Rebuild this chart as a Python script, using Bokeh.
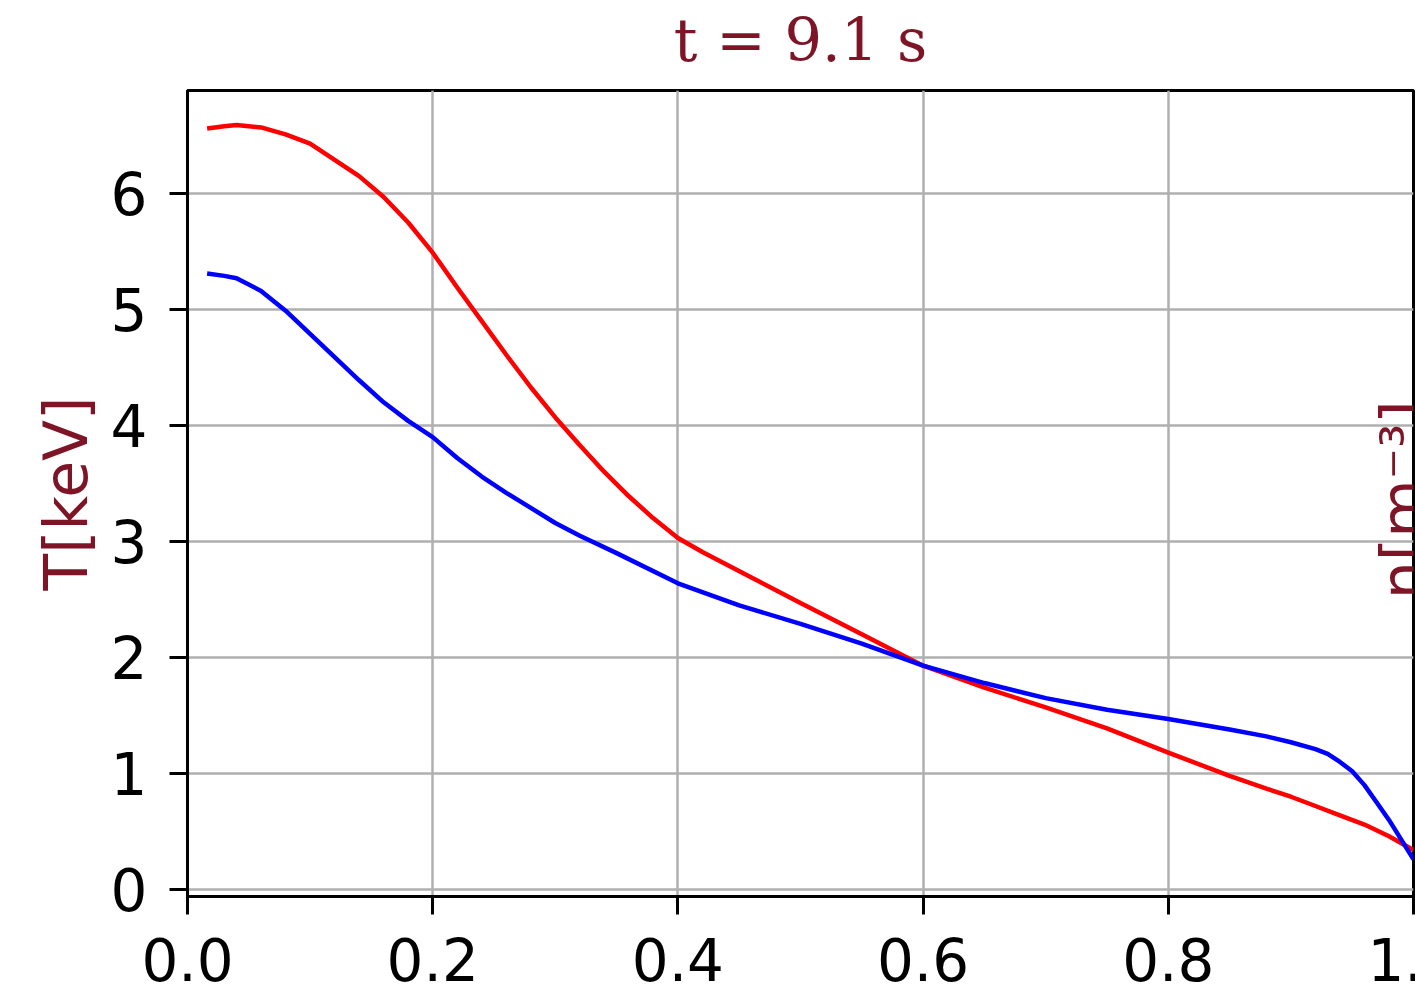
from bokeh.plotting import figure
from bokeh.models import Range1d, FixedTicker, Label, Title
from bokeh.embed import file_html
from bokeh.resources import INLINE
import math

# ---- data ----
rho_red = [0.016, 0.03, 0.04, 0.06, 0.08, 0.10, 0.12, 0.14, 0.16, 0.18, 0.20, 0.22,
           0.24, 0.26, 0.28, 0.30, 0.32, 0.34, 0.36, 0.38, 0.40, 0.42, 0.44, 0.46,
           0.50, 0.55, 0.60, 0.65, 0.70, 0.75, 0.80, 0.85, 0.88, 0.90, 0.92, 0.94,
           0.96, 0.98, 1.00]
T_red = [6.56, 6.58, 6.59, 6.57, 6.51, 6.43, 6.29, 6.15, 5.97, 5.75, 5.49, 5.19,
         4.90, 4.61, 4.33, 4.07, 3.83, 3.60, 3.39, 3.20, 3.03, 2.91, 2.80, 2.69,
         2.47, 2.20, 1.93, 1.74, 1.57, 1.39, 1.18, 0.98, 0.87, 0.80, 0.72, 0.64,
         0.56, 0.46, 0.34]

rho_blue = [0.016, 0.03, 0.04, 0.06, 0.08, 0.10, 0.12, 0.14, 0.16, 0.18, 0.20, 0.22,
            0.24, 0.26, 0.28, 0.30, 0.32, 0.35, 0.40, 0.45, 0.50, 0.55, 0.60, 0.65,
            0.70, 0.75, 0.80, 0.85, 0.88, 0.90, 0.92, 0.93, 0.94, 0.95, 0.96, 0.97,
            0.98, 0.99, 1.00]
T_blue = [5.31, 5.29, 5.27, 5.16, 4.99, 4.79, 4.59, 4.39, 4.20, 4.04, 3.90, 3.72,
          3.56, 3.42, 3.29, 3.16, 3.05, 2.90, 2.64, 2.45, 2.29, 2.12, 1.93, 1.78,
          1.65, 1.55, 1.47, 1.38, 1.32, 1.27, 1.21, 1.17, 1.10, 1.02, 0.90, 0.75,
          0.60, 0.43, 0.26]

x_ticks = [0.0, 0.2, 0.4, 0.6, 0.8, 1.0]
x_tick_labels = ["0.0", "0.2", "0.4", "0.6", "0.8", "1.0"]
y_ticks = [0, 1, 2, 3, 4, 5, 6]
y_tick_labels = ["0", "1", "2", "3", "4", "5", "6"]

title_text = "t = 9.1 s"
y_label = "T[keV]"
right_label = "n[m\u207b\u00b3]"

LABEL_COLOR = "#7d1526"

p = figure(width=1460, height=1005, output_backend="svg", toolbar_location=None,
           x_range=Range1d(0.0, 1.0), y_range=Range1d(-0.06, 6.888),
           min_border_left=187, min_border_right=47, min_border_top=90,
           min_border_bottom=109)

# thin spacer panel between the frame and the title
p.add_layout(Title(text=" ", text_font_size="1px", standoff=13), "above")

p.title.text = title_text
p.title.align = "center"
p.title.text_font = "DejaVu Serif"
p.title.text_font_size = "59px"
p.title.text_font_style = "normal"
p.title.text_color = LABEL_COLOR
p.title.standoff = 0

p.background_fill_color = "white"
p.border_fill_color = "white"
p.outline_line_color = "black"
p.outline_line_width = 3

for ax in (p.xaxis[0], p.yaxis[0]):
    ax.axis_line_color = "black"
    ax.axis_line_width = 3
    ax.major_tick_line_color = "black"
    ax.major_tick_line_width = 3
    ax.major_tick_out = 18
    ax.major_tick_in = 0
    ax.minor_tick_line_color = None
    ax.major_label_text_font = "DejaVu Sans"
    ax.major_label_text_font_size = "58px"
    ax.major_label_text_color = "black"

p.xaxis[0].ticker = FixedTicker(ticks=x_ticks)
p.xaxis[0].major_label_overrides = {t: l for t, l in zip(x_ticks, x_tick_labels)}
p.xaxis[0].major_label_standoff = 23

p.yaxis[0].ticker = FixedTicker(ticks=y_ticks)
p.yaxis[0].major_label_overrides = {t: l for t, l in zip(y_ticks, y_tick_labels)}
p.yaxis[0].major_label_standoff = 22
p.yaxis[0].axis_label = y_label
p.yaxis[0].axis_label_text_font = "DejaVu Sans"
p.yaxis[0].axis_label_text_font_size = "60px"
p.yaxis[0].axis_label_text_font_style = "normal"
p.yaxis[0].axis_label_text_color = LABEL_COLOR
p.yaxis[0].axis_label_standoff = 7

p.xgrid.grid_line_color = "#b0b0b0"
p.xgrid.grid_line_width = 2.5
p.ygrid.grid_line_color = "#b0b0b0"
p.ygrid.grid_line_width = 2.5

p.line(rho_red, T_red, line_color="red", line_width=4.5)
p.line(rho_blue, T_blue, line_color="blue", line_width=4.5)

# label of the neighbouring axis, cut by the picture's right edge
p.add_layout(Label(x=0.9915, y=3.36, text=right_label, angle=math.pi / 2,
                   text_font="DejaVu Sans", text_font_size="60px",
                   text_color=LABEL_COLOR, text_align="center",
                   text_baseline="alphabetic"))

open("out.html", "w").write(file_html(p, INLINE))
